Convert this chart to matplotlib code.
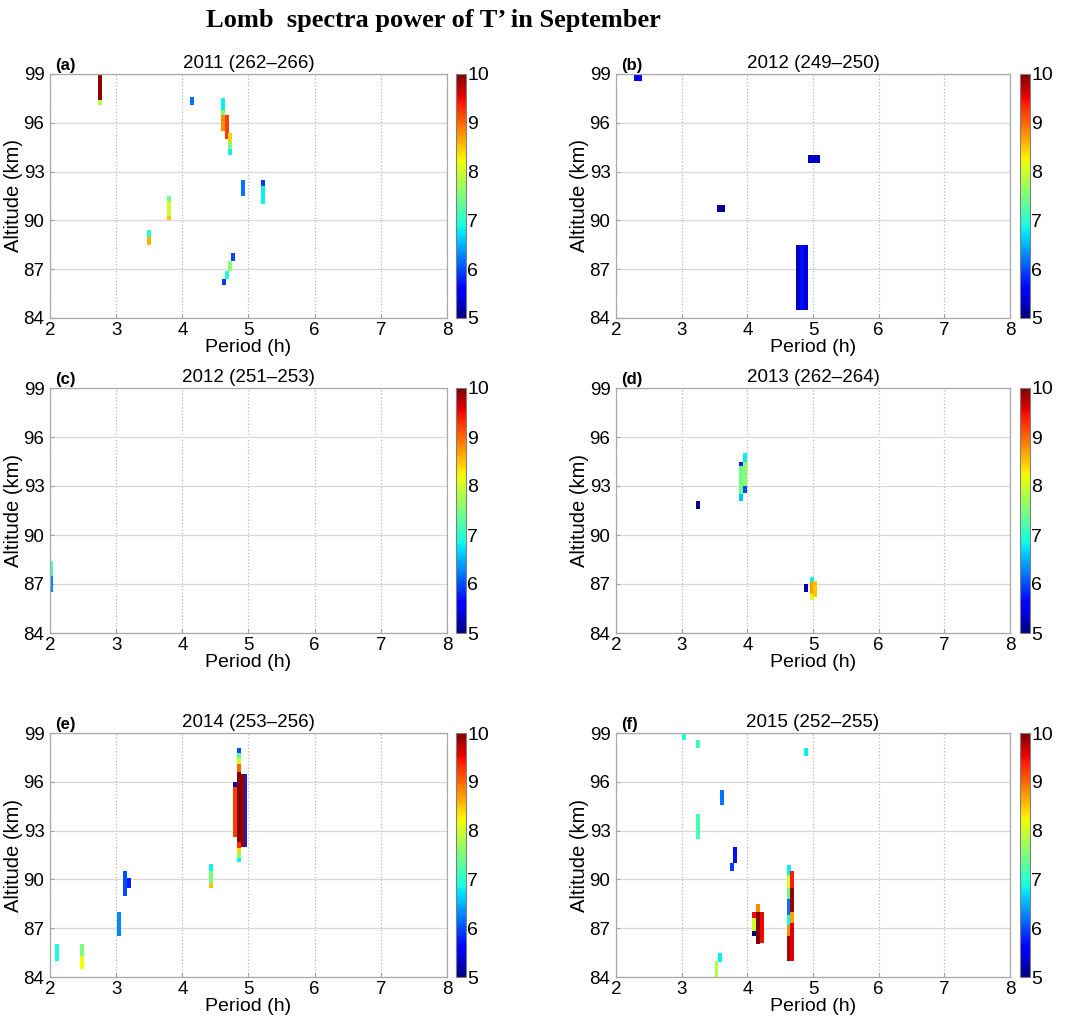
import numpy as np
import matplotlib
matplotlib.use("Agg")
import matplotlib.pyplot as plt
from matplotlib import font_manager
from matplotlib.cm import ScalarMappable
from matplotlib.colors import Normalize

# ── data: spectral patches (period h, altitude range km, power) ─────────────
a_period = [2.75, 2.75, 4.15, 3.80, 3.80, 3.80, 3.50, 3.50,
            4.62, 4.62, 4.62, 4.67, 4.72, 4.72, 4.72,
            4.92, 5.22, 5.22, 4.63, 4.67, 4.72, 4.77]
a_alt_lo = [97.4, 97.1, 97.1, 90.0, 90.3, 91.2, 89.0, 88.5,
            96.8, 96.5, 95.5, 95.0, 94.8, 94.4, 94.05,
            91.5, 92.1, 91.0, 86.0, 86.4, 86.9, 87.5]
a_alt_hi = [99.0, 97.4, 97.6, 90.3, 91.2, 91.5, 89.4, 89.0,
            97.5, 96.8, 96.5, 96.5, 95.4, 94.8, 94.4,
            92.5, 92.5, 92.1, 86.4, 86.9, 87.5, 88.0]
a_power = [9.9, 7.8, 6.2, 8.5, 8.0, 7.4, 7.0, 8.6,
           6.8, 7.5, 8.8, 9.2, 8.4, 7.5, 6.8,
           6.2, 5.9, 6.8, 5.9, 7.0, 7.6, 6.0]

b_period = [2.30, 2.36, 3.57, 3.63, 4.96, 5.02, 5.08, 4.77, 4.83, 4.89]
b_alt_lo = [98.55, 98.55, 90.5, 90.5, 93.55, 93.55, 93.55, 84.5, 84.5, 84.5]
b_alt_hi = [99.0, 99.0, 90.95, 90.95, 94.0, 94.0, 94.0, 88.5, 88.5, 88.5]
b_power = [5.5, 5.5, 5.1, 5.1, 5.3, 5.3, 5.3, 5.3, 5.7, 5.4]

c_period = [2.02, 2.02]
c_alt_lo = [87.5, 86.5]
c_alt_hi = [88.4, 87.5]
c_power = [7.2, 6.3]

d_period = [3.25, 3.90, 3.90, 3.90, 3.97, 3.97, 3.97,
            4.90, 4.98, 4.98, 4.98, 5.03]
d_alt_lo = [91.6, 94.2, 92.5, 92.1, 94.5, 93.0, 92.6,
            86.5, 87.1, 86.4, 86.0, 86.2]
d_alt_hi = [92.1, 94.5, 94.2, 92.5, 95.0, 94.5, 93.0,
            87.0, 87.45, 87.1, 86.4, 87.2]
d_power = [5.1, 5.8, 7.4, 6.6, 6.8, 7.6, 6.0,
           5.2, 6.8, 8.7, 8.1, 8.5]

# later entries are drawn on top of earlier ones
e_period = [2.10, 2.49, 2.49, 3.05, 3.14, 3.19, 4.44, 4.44, 4.44,
            4.95, 4.80, 4.80, 4.86, 4.86, 4.86, 4.86, 4.86, 4.86, 4.86, 4.86, 4.86,
            4.91]
e_alt_lo = [85.0, 85.3, 84.5, 86.5, 89.0, 89.5, 90.5, 89.8, 89.5,
            92.0, 95.7, 92.6, 97.75, 97.45, 97.1, 96.6, 92.3, 91.9, 91.6, 91.3, 91.05,
            92.0]
e_alt_hi = [86.0, 86.0, 85.3, 88.0, 90.5, 90.1, 90.95, 90.5, 89.8,
            96.5, 96.0, 95.7, 98.1, 97.75, 97.45, 97.1, 96.6, 92.3, 91.9, 91.6, 91.3,
            96.5]
e_power = [6.9, 7.5, 8.2, 6.3, 6.0, 5.8, 6.8, 7.5, 8.5,
           5.8, 5.2, 9.2, 6.0, 7.3, 8.0, 9.0, 10.0, 9.3, 8.4, 7.6, 6.8,
           9.9]

f_period = [3.04, 3.25, 4.90, 3.62, 3.25, 3.81, 3.76, 3.58, 3.53,
            4.10, 4.10, 4.10, 4.16, 4.16, 4.22,
            4.64, 4.64, 4.64, 4.64, 4.64, 4.64, 4.64,
            4.68, 4.68, 4.68, 4.68]
f_alt_lo = [98.55, 98.1, 97.6, 94.56, 92.5, 91.0, 90.5, 84.9, 84.0,
            86.5, 86.8, 87.6, 88.0, 86.0, 86.1,
            90.3, 89.5, 88.8, 87.8, 87.2, 86.5, 85.0,
            89.5, 88.0, 87.3, 85.0]
f_alt_hi = [99.0, 98.55, 98.05, 95.52, 94.0, 92.0, 91.0, 85.5, 85.0,
            86.8, 87.6, 88.0, 88.5, 88.0, 88.0,
            90.9, 90.3, 89.5, 88.8, 87.8, 87.2, 86.5,
            90.5, 89.5, 88.0, 87.3]
f_power = [7.0, 7.1, 6.8, 6.2, 7.2, 5.7, 5.9, 6.8, 7.8,
           5.0, 8.0, 9.5, 8.8, 10.0, 9.5,
           6.8, 8.0, 7.4, 6.2, 6.9, 8.8, 9.8,
           9.4, 9.9, 8.7, 9.6]

panel_tags = ["(a)", "(b)", "(c)", "(d)", "(e)", "(f)"]
panel_titles = ["2011 (262\u2013266)", "2012 (249\u2013250)", "2012 (251\u2013253)",
                "2013 (262\u2013264)", "2014 (253\u2013256)", "2015 (252\u2013255)"]
period_ticks = [2, 3, 4, 5, 6, 7, 8]
alt_ticks = [84, 87, 90, 93, 96, 99]
power_ticks = [5, 6, 7, 8, 9, 10]

panels = [
    (a_period, a_alt_lo, a_alt_hi, a_power),
    (b_period, b_alt_lo, b_alt_hi, b_power),
    (c_period, c_alt_lo, c_alt_hi, c_power),
    (d_period, d_alt_lo, d_alt_hi, d_power),
    (e_period, e_alt_lo, e_alt_hi, e_power),
    (f_period, f_alt_lo, f_alt_hi, f_power),
]

# ── fonts ───────────────────────────────────────────────────────────────────
installed = {f.name for f in font_manager.fontManager.ttflist}
sans = "Liberation Sans Narrow" if "Liberation Sans Narrow" in installed else "Liberation Sans"
plt.rcParams["font.family"] = [sans, "DejaVu Sans"]

BAR_W = 0.06
cmap = plt.get_cmap("jet")
norm = Normalize(vmin=5, vmax=10)

fig = plt.figure(figsize=(10.72, 10.23), dpi=100)

# axes boxes in pixels of the 1072x1023 canvas
W, H = 1072, 1023
col_x = [(50, 447, 456), (616, 1010, 1020)]
row_y = [(74, 318), (388, 633), (733, 977)]

for i, (per, lo, hi, pw) in enumerate(panels):
    r, c = divmod(i, 2)
    x0, x1, cx = col_x[c]
    y0, y1 = row_y[r]
    ax = fig.add_axes([x0 / W, 1 - y1 / H, (x1 - x0) / W, (y1 - y0) / H])

    per = np.array(per)
    lo = np.array(lo)
    hi = np.array(hi)
    ax.bar(per, hi - lo, bottom=lo, width=BAR_W,
           color=cmap(norm(np.array(pw))), linewidth=0, zorder=2)

    ax.set_xlim(2, 8)
    ax.set_ylim(84, 99)
    ax.set_xticks(period_ticks)
    ax.set_yticks(alt_ticks)
    ax.set_axisbelow(True)
    ax.xaxis.grid(True, linestyle=":", color="#b8b8b8", lw=0.9)
    ax.yaxis.grid(True, linestyle="-", color="#d8d8d8", lw=0.9)
    for s in ax.spines.values():
        s.set_color("#a8a8a8")
        s.set_linewidth(0.9)
    ax.tick_params(direction="in", length=3, color="#a0a0a0", labelsize=13.5)
    ax.tick_params(axis="x", pad=3)
    ax.tick_params(axis="y", pad=4)

    ax.set_xlabel("Period (h)", fontsize=14, labelpad=0)
    ax.set_ylabel("Altitude (km)", fontsize=14.5, labelpad=0)
    ax.set_title(panel_titles[i], fontsize=13.5, pad=4)
    ax.text(0.012, 1.006, panel_tags[i], transform=ax.transAxes,
            fontsize=12, fontweight="bold", va="bottom", ha="left")

    cax = fig.add_axes([cx / W, 1 - y1 / H, 10 / W, (y1 - y0) / H])
    cb = fig.colorbar(ScalarMappable(norm=norm, cmap=cmap), cax=cax,
                      ticks=power_ticks)
    cb.outline.set_edgecolor("#808080")
    cb.outline.set_linewidth(0.8)
    cb.ax.tick_params(labelsize=14, length=0, pad=1)

fig.text(433 / W, 1 - 21 / H, "Lomb  spectra power of T\u2019 in September",
         family=["Liberation Serif", "DejaVu Serif"], fontweight="bold",
         fontsize=19, ha="center", va="center")

fig.savefig("out.png", dpi=100)
